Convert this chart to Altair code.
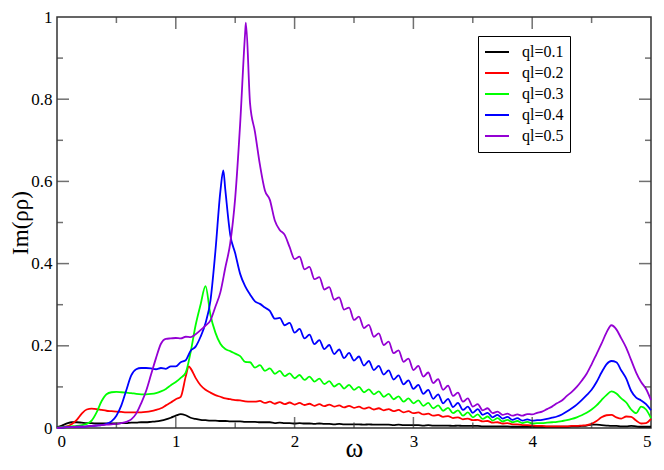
import altair as alt
import pandas as pd

# sample positions (omega) and values
OMEGA = [i / 24 for i in range(121)]
SERIES = ["ql=0.1", "ql=0.2", "ql=0.3", "ql=0.4", "ql=0.5"]
COLORS = ["#000000", "#ff0000", "#00ff00", "#0000ff", "#9400d3"]

BLACK = [.002, .006, .011, .014, .014, .013, .012, .012, .011, .011,
         .011, .011, .011, .012, .012, .013, .013, .014, .014, .015,
         .016, .018, .021, .025, .030, .034, .031, .025, .022, .020,
         .019, .018, .018, .017, .017, .016, .016, .016, .015, .015,
         .015, .014, .014, .014, .012, .013, .012, .012, .011, .012,
         .011, .011, .010, .011, .010, .010, .009, .010, .009, .009,
         .009, .009, .008, .009, .008, .008, .008, .008, .007, .008,
         .007, .007, .007, .007, .006, .007, .006, .006, .006, .006,
         .005, .006, .005, .005, .005, .005, .004, .004, .004, .004,
         .004, .004, .003, .003, .003, .003, .003, .003, .003, .003,
         .003, .003, .003, .003, .004, .004, .005, .006, .008, .008,
         .007, .006, .005, .005, .004, .004, .005, .004, .003, .003,
         .003]

RED = [.001, .002, .004, .010, .020, .035, .045, .047, .046, .044,
       .042, .041, .040, .039, .038, .038, .038, .038, .039, .041,
       .044, .048, .055, .062, .070, .076, .125, .145, .122, .104,
       .093, .086, .080, .076, .072, .070, .068, .067, .065, .064,
       .064, .066, .061, .064, .059, .063, .058, .062, .057, .061,
       .056, .059, .054, .058, .053, .057, .052, .055, .050, .054,
       .049, .052, .047, .050, .045, .048, .043, .046, .041, .044,
       .038, .041, .036, .038, .033, .035, .030, .032, .027, .029,
       .024, .026, .021, .023, .019, .020, .016, .017, .013, .014,
       .011, .012, .009, .009, .007, .007, .006, .005, .005, .004,
       .004, .004, .004, .004, .005, .005, .006, .007, .010, .017,
       .026, .031, .032, .026, .023, .028, .027, .018, .011, .012,
       .022]

GREEN = [.001, .002, .003, .004, .005, .007, .010, .018, .038, .065,
         .082, .087, .088, .087, .086, .085, .083, .082, .082, .083,
         .085, .089, .095, .104, .112, .122, .135, .185, .250, .300,
         .345, .275, .232, .205, .192, .187, .181, .175, .161, .160,
         .147, .153, .139, .145, .132, .139, .126, .133, .121, .129,
         .117, .125, .113, .120, .107, .114, .101, .108, .096, .105,
         .093, .100, .087, .094, .082, .089, .076, .083, .070, .077,
         .064, .072, .060, .067, .054, .061, .048, .055, .042, .049,
         .036, .043, .030, .038, .026, .033, .022, .028, .018, .024,
         .016, .020, .014, .017, .012, .015, .011, .012, .012, .013,
         .014, .015, .017, .019, .022, .026, .031, .037, .045, .055,
         .068, .080, .089, .084, .072, .062, .045, .036, .052, .045,
         .024]

BLUE = [.001, .001, .002, .002, .003, .003, .004, .005, .006, .007,
        .010, .016, .030, .055, .092, .128, .143, .146, .146, .145,
        .143, .146, .144, .150, .150, .160, .165, .188, .198, .222,
        .255, .310, .430, .575, .580, .470, .425, .375, .345, .325,
        .308, .302, .293, .285, .266, .268, .250, .256, .232, .241,
        .218, .227, .204, .214, .192, .202, .180, .191, .170, .183,
        .164, .174, .152, .163, .141, .151, .130, .140, .118, .128,
        .106, .116, .095, .105, .083, .093, .071, .082, .060, .071,
        .051, .061, .044, .052, .037, .046, .032, .037, .026, .032,
        .023, .027, .020, .024, .018, .021, .018, .019, .020, .022,
        .025, .028, .033, .040, .048, .057, .068, .080, .093, .112,
        .135, .155, .163, .160, .140, .120, .090, .074, .067, .058,
        .043]

PURPLE = [.000, .001, .002, .002, .003, .003, .004, .005, .006, .007,
          .008, .009, .010, .012, .015, .021, .035, .060, .090, .130,
          .170, .205, .217, .218, .219, .218, .222, .221, .228, .238,
          .249, .262, .295, .330, .390, .450, .560, .740, .960, .790,
          .720, .640, .578, .555, .505, .482, .470, .440, .411, .417,
          .386, .392, .362, .367, .337, .343, .312, .318, .288, .293,
          .263, .271, .243, .251, .222, .230, .202, .210, .182, .189,
          .161, .169, .141, .151, .125, .135, .109, .119, .093, .103,
          .078, .086, .064, .072, .052, .058, .043, .048, .036, .040,
          .032, .035, .030, .033, .030, .034, .033, .037, .040, .046,
          .052, .060, .067, .078, .088, .100, .115, .132, .155, .180,
          .205, .232, .250, .240, .218, .195, .165, .135, .112, .095,
          .068]

# sharp peak maxima that fall between sample positions
PEAK_OMEGA = {"ql=0.2": [1.11], "ql=0.4": [1.40], "ql=0.5": [1.59]}
PEAK_VALUE = {"ql=0.2": [0.150], "ql=0.4": [0.627], "ql=0.5": [0.986]}

X_TICKS = [0, 1, 2, 3, 4, 5]
Y_TICKS = [0, 0.2, 0.4, 0.6, 0.8, 1]
X_MAJOR = [1, 2, 3, 4]
X_MINOR = [0.5, 1.5, 2.5, 3.5, 4.5]
Y_MAJOR = [0.2, 0.4, 0.6, 0.8]
Y_MINOR = [0.1, 0.3, 0.5, 0.7, 0.9]

rows = []
for name, vals in zip(SERIES, [BLACK, RED, GREEN, BLUE, PURPLE]):
    pts = list(zip(OMEGA, vals)) + list(zip(PEAK_OMEGA.get(name, []), PEAK_VALUE.get(name, [])))
    pts.sort()
    for w, v in pts:
        rows.append({"omega": w, "value": v, "series": name})
df = pd.DataFrame(rows)

W, H = 594, 411
FONT = "Liberation Serif, Times New Roman, serif"
TICK_COLOR = "#333333"
X_TITLE = "ω"
Y_TITLE = "Im(ρρ)"

xscale = alt.Scale(domain=[0, 5], nice=False, zero=False)
yscale = alt.Scale(domain=[0, 1], nice=False)

X_AXIS = alt.Axis(values=X_TICKS, format="d", ticks=False, domain=False, grid=False,
                  labelFont=FONT, labelFontSize=17, labelPadding=5, labelColor="black",
                  titleFont=FONT, titleFontSize=27, titleFontWeight="normal", titleColor="black",
                  titleX=W / 2, titleY=34, titleBaseline="bottom", titleAlign="center")
Y_AXIS = alt.Axis(values=Y_TICKS, format="~g", ticks=False, domain=False, grid=False,
                  labelFont=FONT, labelFontSize=17, labelPadding=5, labelColor="black",
                  titleFont=FONT, titleFontSize=23, titleFontWeight="normal", titleColor="black",
                  titleX=-37, titleY=H / 2, titleBaseline="middle", titleAlign="center")

lines = alt.Chart(df).mark_line(strokeWidth=1.8, interpolate="monotone").encode(
    x=alt.X("omega:Q", scale=xscale, title=X_TITLE, axis=X_AXIS),
    y=alt.Y("value:Q", scale=yscale, title=Y_TITLE, axis=Y_AXIS),
    color=alt.Color("series:N", scale=alt.Scale(domain=SERIES, range=COLORS),
                    legend=alt.Legend(title=None, orient="none", legendX=421, legendY=19,
                                      symbolType="stroke", symbolSize=576, symbolStrokeWidth=2,
                                      labelFont=FONT, labelFontSize=16, labelColor="black", labelOffset=12,
                                      padding=6, strokeColor="black", fillColor="white",
                                      rowPadding=1, clipHeight=20)),
)


def xticks(vals, length, top):
    return alt.Chart(pd.DataFrame({"t": vals})).mark_tick(
        size=length, thickness=1.5, color=TICK_COLOR, orient="vertical"
    ).encode(
        x=alt.X("t:Q", scale=xscale, title=X_TITLE, axis=X_AXIS),
        y=alt.value(length / 2 if top else H - length / 2),
    )


def yticks(vals, length, right):
    return alt.Chart(pd.DataFrame({"t": vals})).mark_tick(
        size=length, thickness=1.5, color=TICK_COLOR, orient="horizontal"
    ).encode(
        y=alt.Y("t:Q", scale=yscale, title=Y_TITLE, axis=Y_AXIS),
        x=alt.value(W - length / 2 if right else length / 2),
    )


ticks = [
    xticks(X_MAJOR, 11, False), xticks(X_MINOR, 5.5, False),
    xticks(X_MAJOR, 12, True), xticks(X_MINOR, 6, True),
    yticks(Y_MAJOR, 12, False), yticks(Y_MINOR, 6, False),
    yticks(Y_MAJOR, 12, True), yticks(Y_MINOR, 6, True),
]

chart = alt.layer(lines, *ticks).properties(
    width=W, height=H,
    padding={"left": 49, "top": 9, "right": 5, "bottom": 34},
    autosize="none",
    background="white",
).configure_view(
    stroke="#333333", strokeWidth=1.5
).configure_legend(
    labelFont=FONT
)

chart.save("out.html", embed_options={"renderer": "svg", "actions": False})
